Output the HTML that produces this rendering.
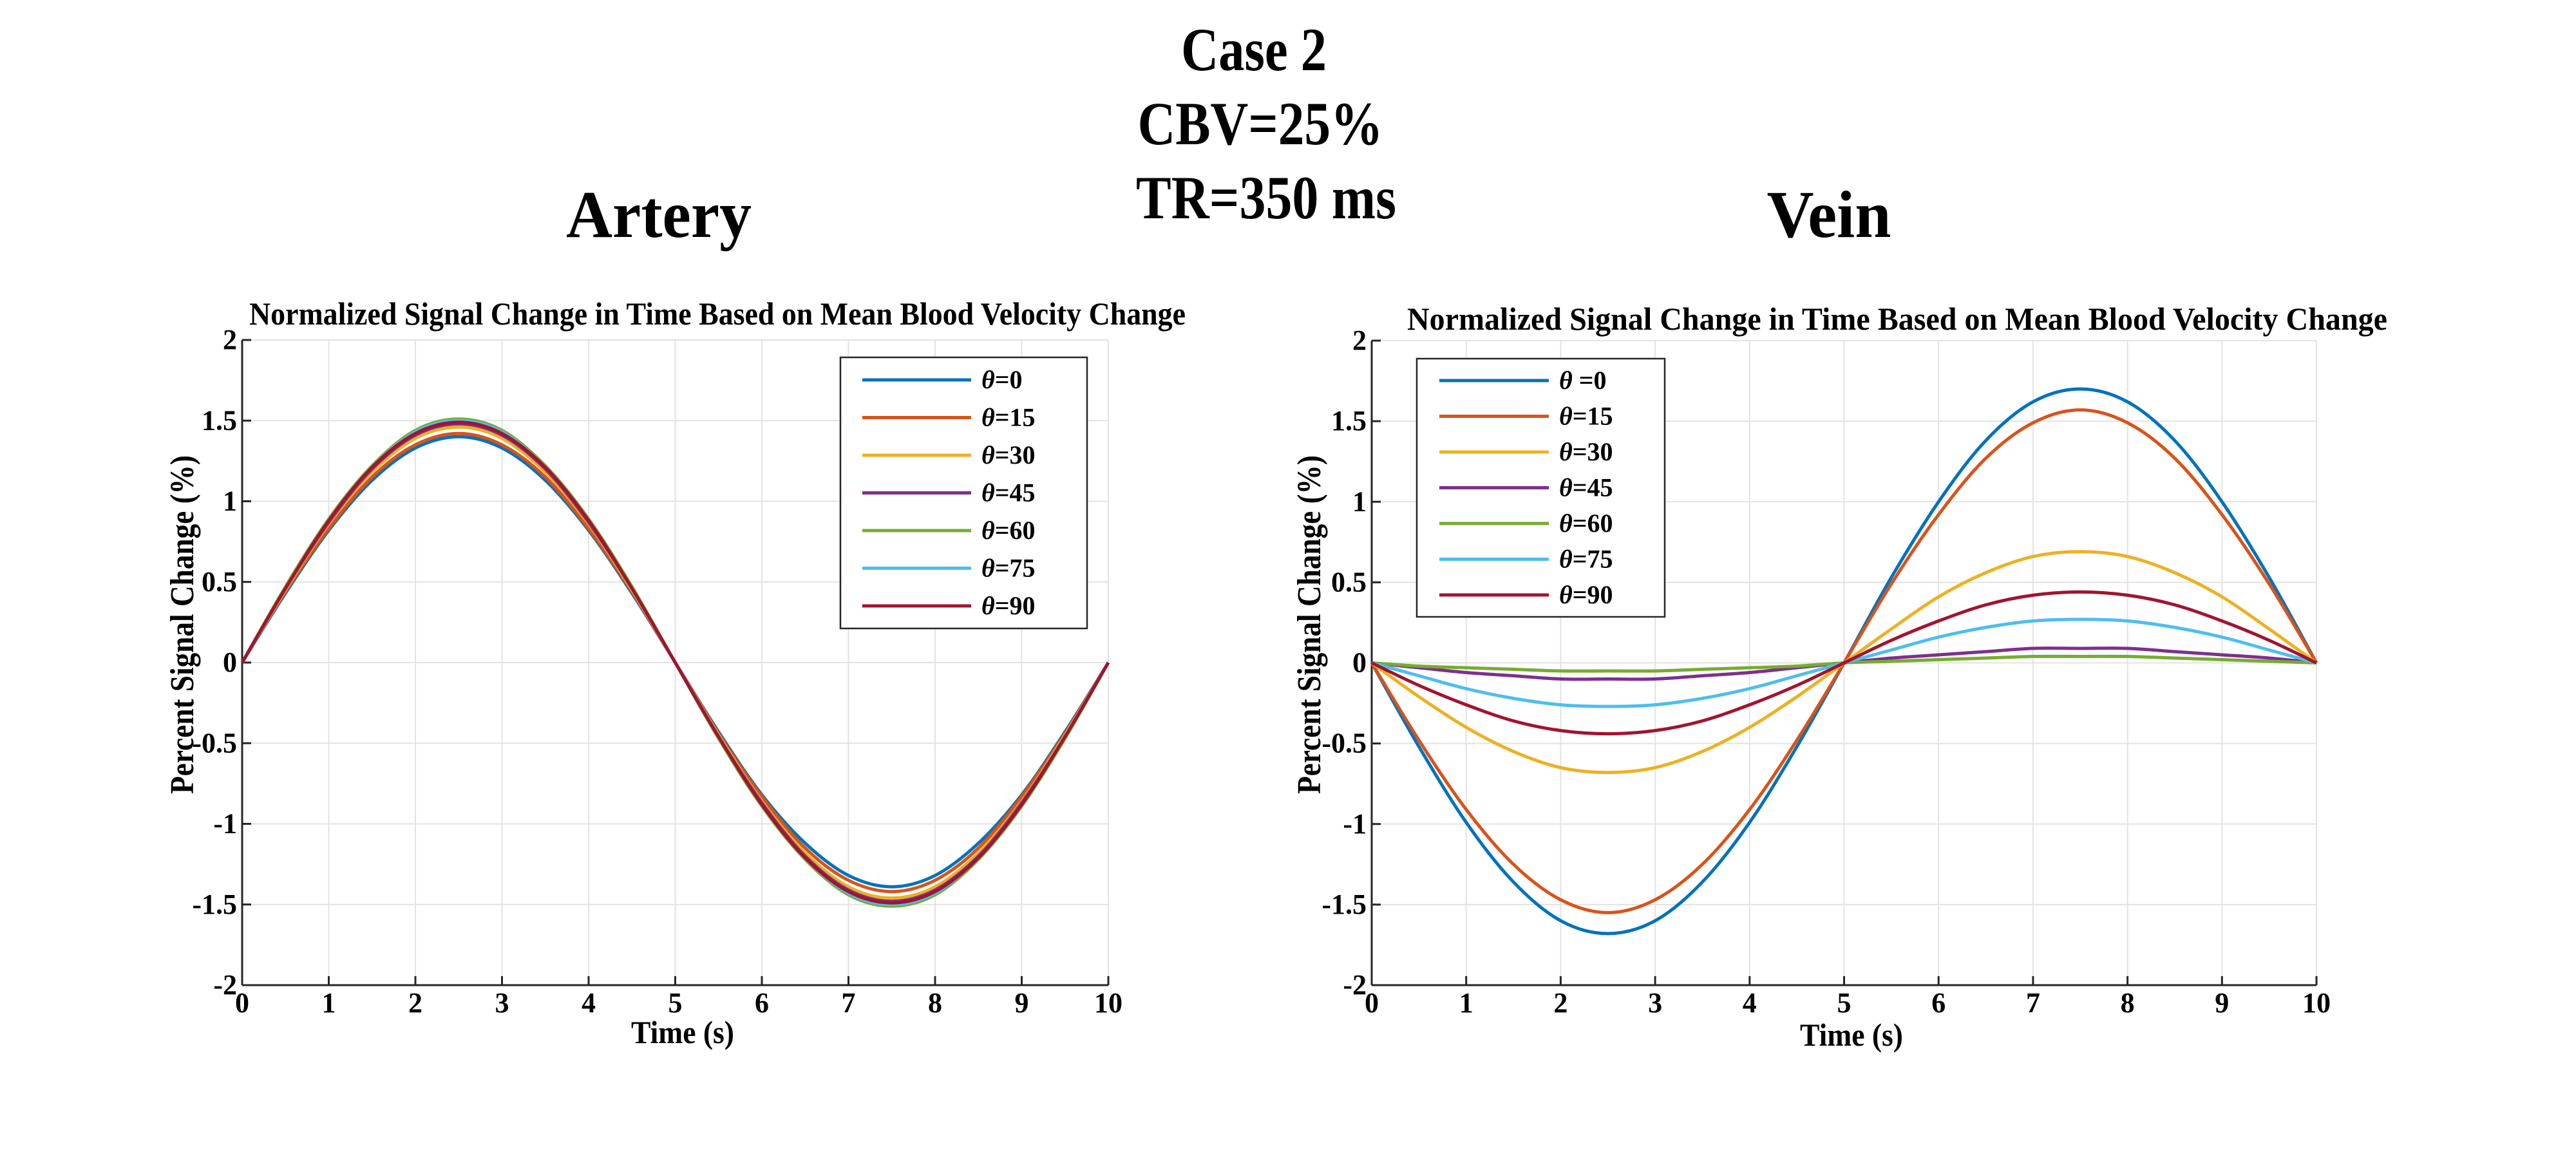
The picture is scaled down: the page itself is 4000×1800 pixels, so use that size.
<!DOCTYPE html>
<html><head><meta charset="utf-8"><style>
html,body{margin:0;padding:0;background:#fff;}
svg{display:block;}
text{font-family:"Liberation Serif",serif;font-weight:bold;fill:#000;}
</style></head>
<body>
<svg id="fig" width="4000" height="1800" viewBox="0 0 4000 1800" xmlns="http://www.w3.org/2000/svg">
<rect width="4000" height="1800" fill="#fff"/>
<text x="1947" y="109" font-size="95" text-anchor="middle" textLength="226" lengthAdjust="spacingAndGlyphs">Case 2</text>
<text x="1957" y="224" font-size="95" text-anchor="middle" textLength="381" lengthAdjust="spacingAndGlyphs">CBV=25%</text>
<text x="1966" y="339" font-size="95" text-anchor="middle" textLength="404" lengthAdjust="spacingAndGlyphs">TR=350 ms</text>
<text x="1023" y="368" font-size="104" text-anchor="middle" textLength="288" lengthAdjust="spacingAndGlyphs">Artery</text>
<text x="2840" y="368" font-size="104" text-anchor="middle" textLength="193" lengthAdjust="spacingAndGlyphs">Vein</text>
<g id="left"></g>
<g id="right"></g>
</svg>
<script>
const timeSamples = [0,0.5,1,1.5,2,2.5,3,3.5,4,4.5,5,5.5,6,6.5,7,7.5,8,8.5,9,9.5,10];
const seriesLabels = ["θ=0","θ=15","θ=30","θ=45","θ=60","θ=75","θ=90"];
const veinLabels = ["θ =0","θ=15","θ=30","θ=45","θ=60","θ=75","θ=90"];
const seriesColors = ["#0072BD","#D95319","#EDB120","#7E2F8E","#77AC30","#4DBEEE","#A2142F"];
const xTicks = [0,1,2,3,4,5,6,7,8,9,10];
const yTicks = [2,1.5,1,0.5,0,-0.5,-1,-1.5,-2];
const yTickLabels = ["2","1.5","1","0.5","0","-0.5","-1","-1.5","-2"];

const arteryTheta0  = [0,.43,.82,1.13,1.33,1.40,1.33,1.13,.82,.43,0,-.43,-.82,-1.12,-1.32,-1.39,-1.32,-1.12,-.82,-.43,0];
const arteryTheta15 = [0,.44,.83,1.15,1.35,1.42,1.35,1.15,.83,.44,0,-.44,-.83,-1.15,-1.35,-1.42,-1.35,-1.15,-.83,-.44,0];
const arteryTheta30 = [0,.45,.86,1.18,1.39,1.46,1.39,1.18,.86,.45,0,-.45,-.86,-1.18,-1.39,-1.46,-1.39,-1.18,-.86,-.45,0];
const arteryTheta45 = [0,.46,.87,1.20,1.41,1.48,1.41,1.20,.87,.46,0,-.46,-.87,-1.20,-1.41,-1.48,-1.41,-1.20,-.87,-.46,0];
const arteryTheta60 = [0,.47,.89,1.22,1.44,1.51,1.44,1.22,.89,.47,0,-.47,-.89,-1.22,-1.44,-1.51,-1.44,-1.22,-.89,-.47,0];
const arteryTheta75 = [0,.46,.88,1.21,1.43,1.50,1.43,1.21,.88,.46,0,-.46,-.88,-1.21,-1.43,-1.50,-1.43,-1.21,-.88,-.46,0];
const arteryTheta90 = [0,.46,.88,1.21,1.42,1.49,1.42,1.21,.88,.46,0,-.46,-.88,-1.21,-1.42,-1.49,-1.42,-1.21,-.88,-.46,0];

const veinTheta0  = [0,-.52,-.99,-1.36,-1.60,-1.68,-1.60,-1.36,-.99,-.52,0,.53,1.00,1.38,1.62,1.70,1.62,1.38,1.00,.53,0];
const veinTheta15 = [0,-.48,-.91,-1.25,-1.47,-1.55,-1.47,-1.25,-.91,-.48,0,.49,.92,1.27,1.49,1.57,1.49,1.27,.92,.49,0];
const veinTheta30 = [0,-.21,-.40,-.55,-.65,-.68,-.65,-.55,-.40,-.21,0,.21,.41,.56,.66,.69,.66,.56,.41,.21,0];
const veinTheta45 = [0,-.03,-.06,-.08,-.10,-.10,-.10,-.08,-.06,-.03,0,.03,.05,.07,.09,.09,.09,.07,.05,.03,0];
const veinTheta60 = [0,-.02,-.03,-.04,-.05,-.05,-.05,-.04,-.03,-.02,0,.01,.02,.03,.04,.04,.04,.03,.02,.01,0];
const veinTheta75 = [0,-.08,-.16,-.22,-.26,-.27,-.26,-.22,-.16,-.08,0,.08,.16,.22,.26,.27,.26,.22,.16,.08,0];
const veinTheta90 = [0,-.14,-.26,-.36,-.42,-.44,-.42,-.36,-.26,-.14,0,.14,.26,.36,.42,.44,.42,.36,.26,.14,0];

const arterySeries = [arteryTheta0,arteryTheta15,arteryTheta30,arteryTheta45,arteryTheta60,arteryTheta75,arteryTheta90];
const veinSeries = [veinTheta0,veinTheta15,veinTheta30,veinTheta45,veinTheta60,veinTheta75,veinTheta90];

const NS = "http://www.w3.org/2000/svg";
function mk(tag, attrs, parent, txt){
  const e = document.createElementNS(NS, tag);
  for (const k in attrs) e.setAttribute(k, attrs[k]);
  if (txt !== undefined) e.textContent = txt;
  parent.appendChild(e);
  return e;
}
function smoothPath(pts){
  let d = "M" + pts[0][0].toFixed(1) + "," + pts[0][1].toFixed(1);
  for (let i = 0; i < pts.length - 1; i++){
    const p0 = pts[Math.max(0,i-1)], p1 = pts[i], p2 = pts[i+1], p3 = pts[Math.min(pts.length-1,i+2)];
    const c1x = p1[0] + (p2[0]-p0[0])/6, c1y = p1[1] + (p2[1]-p0[1])/6;
    const c2x = p2[0] - (p3[0]-p1[0])/6, c2y = p2[1] - (p3[1]-p1[1])/6;
    d += " C" + c1x.toFixed(1) + "," + c1y.toFixed(1) + " " + c2x.toFixed(1) + "," + c2y.toFixed(1) + " " + p2[0].toFixed(1) + "," + p2[1].toFixed(1);
  }
  return d;
}
function drawChart(g, cfg, series, labels){
  const xS = v => cfg.x0 + (v - 0) / 10 * (cfg.x1 - cfg.x0);
  const yS = v => cfg.yb + (v + 2) / 4 * (cfg.yt - cfg.yb);
  const grid = mk("g", {}, g);
  
  
  xTicks.forEach(t => { if (t>0) mk("line",{x1:xS(t),x2:xS(t),y1:cfg.yt,y2:cfg.yb,stroke:"#e3e3e3","stroke-width":2},grid); });
  yTicks.forEach(t => { if (t>-2) mk("line",{x1:cfg.x0,x2:cfg.x1,y1:yS(t),y2:yS(t),stroke:"#e3e3e3","stroke-width":2},grid); });
  // axes
  const ax = mk("g", {}, g);
  
  
  mk("line",{x1:cfg.x0,x2:cfg.x0,y1:cfg.yt,y2:cfg.yb,stroke:"#262626","stroke-width":3},ax);
  mk("line",{x1:cfg.x0,x2:cfg.x1,y1:cfg.yb,y2:cfg.yb,stroke:"#262626","stroke-width":3},ax);
  xTicks.forEach(t => {
    mk("line",{x1:xS(t),x2:xS(t),y1:cfg.yb,y2:cfg.yb-14,stroke:"#262626","stroke-width":3},ax);
    const l = mk("text",{x:xS(t),y:1572,"font-size":44,"text-anchor":"middle"},ax,String(t));
    
    
  });
  yTicks.forEach((t,i) => {
    mk("line",{x1:cfg.x0,x2:cfg.x0+14,y1:yS(t),y2:yS(t),stroke:"#262626","stroke-width":3},ax);
    const l = mk("text",{x:cfg.x0-8,y:yS(t)+14,"font-size":44,"text-anchor":"end"},ax,yTickLabels[i]);
    
    
  });
  const st = mk("text",{x:cfg.stX,y:cfg.stY,"font-size":50,textLength:cfg.stW,lengthAdjust:"spacingAndGlyphs"},g,"Normalized Signal Change in Time Based on Mean Blood Velocity Change");
  
  
  const xl = mk("text",{x:cfg.xlX,y:cfg.xlY,"font-size":50,"text-anchor":"middle",textLength:160,lengthAdjust:"spacingAndGlyphs"},g,"Time (s)");
  
  
  const yl = mk("text",{x:0,y:0,"font-size":52,"text-anchor":"middle",textLength:526,lengthAdjust:"spacingAndGlyphs",transform:"translate("+cfg.ylX+","+cfg.ylY+") rotate(-90)"},g,"Percent Signal Change (%)");
  
  
  // series
  series.forEach((vals, si) => {
    const pts = vals.map((v, i) => [xS(timeSamples[i]), yS(v)]);
    const p = mk("path",{d:smoothPath(pts),fill:"none",stroke:seriesColors[si],"stroke-width":5,"stroke-linejoin":"round"},g);
    
    
  });
  // legend
  const lg = mk("g", {}, g);
  
  
  mk("rect",{x:cfg.lgX,y:cfg.lgY,width:cfg.lgW,height:cfg.lgH,fill:"#fff",stroke:"#262626","stroke-width":2.5},lg);
  labels.forEach((lab, i) => {
    const y = cfg.lgE0 + i * cfg.lgStep;
    const e = mk("g", {}, lg);
    
    
    mk("line",{x1:cfg.lnX1,x2:cfg.lnX2,y1:y,y2:y,stroke:seriesColors[i],"stroke-width":5},e);
    const t = mk("text",{x:cfg.txX,y:y+13,"font-size":40},e);
    const th = mk("tspan",{"font-style":"italic"},t,lab.slice(0,1));
    mk("tspan",{},t,lab.slice(1));
  });
}
drawChart(document.getElementById("left"), {
  x0:376, x1:1721, yt:528, yb:1530,
  stX:387, stY:504, stW:1454, xlX:1060, xlY:1620, ylX:300, ylY:970,
  lgX:1305, lgY:555, lgW:383, lgH:421, lgE0:590, lgStep:58.5, lnX1:1339, lnX2:1508, txX:1524
}, arterySeries, seriesLabels);
drawChart(document.getElementById("right"), {
  x0:2130, x1:3597, yt:529, yb:1530,
  stX:2185, stY:512, stW:1522, xlX:2875, xlY:1624, ylX:2050, ylY:970,
  lgX:2200, lgY:557, lgW:385, lgH:401, lgE0:591, lgStep:55.5, lnX1:2235, lnX2:2405, txX:2421
}, veinSeries, veinLabels);
</script>
</body></html>
